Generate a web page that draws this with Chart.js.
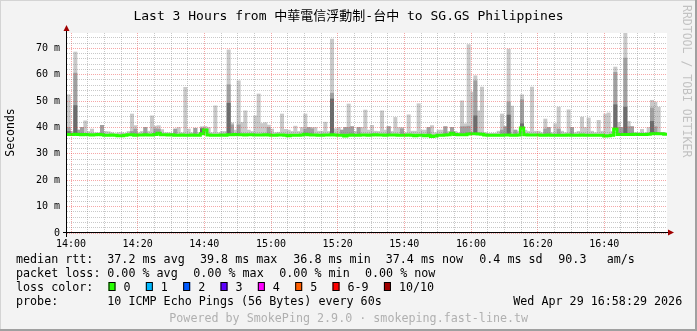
<!DOCTYPE html>
<html>
<head>
<meta charset="utf-8">
<script src="https://cdn.jsdelivr.net/npm/chart.js@4.4.1/dist/chart.umd.min.js"></script>
<style>
  html, body { margin: 0; padding: 0; background: #f3f3f3; }
  canvas { display: block; }
</style>
</head>
<body>
<canvas id="chart" width="697" height="331"></canvas>
<script>
/* global Chart */

const MONO = '"DejaVu Sans Mono", "Noto Sans CJK TC", monospace';

// samples are 1 minute apart, first one starts 1.2 min before 14:00
const FIRST_SAMPLE_MIN = -1.2;
const STEP_MIN = 1;
const Y_MAX = 75.8;

const timeLabels = ['14:00', '14:20', '14:40', '15:00', '15:20', '15:40', '16:00', '16:20', '16:40'];
const yLabels = ['0', '10 m', '20 m', '30 m', '40 m', '50 m', '60 m', '70 m'];

// median rtt per minute (ms)
const medianRtt = [
  37.3, 37.3, 37.4, 37.3, 37.2, 37.3, 37.2, 37.1, 37.2, 37.3, 37.2, 37.0, 37.0, 37.1, 37.0, 36.9, 36.9, 37.0, 37.2, 37.2,
  37.0, 37.1, 37.1, 37.2, 37.1, 37.1, 37.3, 37.8, 37.2, 37.2, 37.1, 37.2, 37.0, 37.0, 37.1, 37.0, 37.0, 37.1, 37.0, 37.0,
  37.6, 39.0, 37.1, 37.0, 37.0, 37.0, 37.1, 37.0, 37.2, 37.2, 37.3, 37.2, 37.2, 37.1, 37.2, 37.2, 37.1, 37.1, 37.1, 37.2,
  37.1, 37.0, 37.0, 37.1, 37.1, 37.0, 36.9, 37.0, 37.0, 37.0, 37.1, 37.4, 37.2, 37.1, 37.1, 37.0, 37.0, 37.1, 37.1, 37.2,
  37.1, 37.0, 37.0, 36.8, 37.0, 37.1, 37.0, 37.0, 37.1, 37.1, 37.0, 37.1, 37.2, 37.1, 37.1, 37.0, 37.1, 37.1, 37.1, 37.0,
  37.0, 37.0, 37.1, 37.0, 36.9, 37.0, 37.0, 36.9, 37.0, 36.6, 36.8, 37.0, 37.0, 37.1, 37.2, 37.8, 37.3, 37.2, 37.2, 37.2,
  37.5, 37.6, 37.6, 37.5, 37.4, 37.1, 37.0, 37.0, 37.0, 37.0, 37.0, 37.1, 37.1, 37.0, 37.0, 37.1, 39.8, 37.2, 37.1, 37.1,
  37.1, 37.1, 37.0, 37.0, 37.1, 37.0, 37.0, 37.0, 37.0, 37.0, 37.1, 37.0, 37.0, 37.0, 37.1, 37.0, 37.0, 37.0, 37.0, 37.0,
  37.0, 36.8, 36.9, 37.0, 39.4, 37.3, 37.3, 37.3, 37.3, 37.3, 37.4, 37.3, 37.3, 37.3, 37.4, 37.6, 37.7, 37.6, 37.6, 37.4,
];

// slowest ping per minute (top of the light smoke)
const smokeMax = [
  52.4, 38.5, 68.6, 39.0, 40.0, 42.5, 38.5, 39.4, 38.0, 38.0, 40.8, 38.5, 38.4, 38.0, 37.6, 38.0, 38.0, 37.8, 38.5, 45.1,
  40.7, 38.0, 38.5, 40.0, 38.6, 44.4, 40.5, 40.7, 39.2, 38.0, 38.0, 37.8, 39.4, 40.0, 38.0, 55.2, 39.4, 38.0, 39.7, 38.0,
  40.3, 40.4, 40.0, 38.0, 48.2, 38.0, 38.5, 38.5, 69.4, 41.7, 39.0, 57.7, 41.9, 46.3, 39.0, 38.5, 44.4, 52.7, 41.5, 41.8,
  40.9, 39.4, 38.0, 38.2, 45.1, 39.3, 39.0, 38.5, 40.5, 38.5, 40.0, 45.1, 40.0, 40.0, 40.0, 38.6, 38.6, 42.0, 38.5, 73.5,
  39.5, 40.0, 39.0, 40.0, 48.9, 40.3, 38.5, 40.0, 40.0, 46.6, 39.0, 40.8, 38.6, 38.5, 46.3, 39.0, 40.4, 38.5, 43.8, 40.0,
  40.0, 38.0, 44.8, 38.6, 38.6, 49.0, 39.0, 39.0, 40.0, 40.7, 38.0, 39.0, 39.0, 40.3, 38.5, 40.0, 38.5, 38.0, 50.1, 41.4,
  71.4, 53.4, 59.6, 46.3, 55.3, 38.0, 37.8, 37.8, 37.8, 38.6, 45.1, 40.3, 69.7, 48.1, 39.0, 38.5, 52.4, 39.0, 38.5, 55.3,
  38.6, 38.6, 38.0, 43.2, 40.0, 38.0, 41.4, 47.7, 38.6, 38.0, 46.7, 40.0, 38.0, 38.5, 43.9, 40.0, 43.6, 38.6, 38.0, 42.7,
  38.6, 45.1, 45.5, 38.5, 62.9, 41.9, 40.0, 75.8, 42.3, 40.3, 38.0, 38.0, 39.3, 38.0, 40.0, 50.3, 49.6, 47.7, 38.0, 37.6,
];

// top of the mid grey smoke band
const smokeUpper = [
  40.0, null, 60.6, 39.0, 40.0, null, null, null, null, null, 40.8, null, null, null, null, null, null, null, null, 38.5,
  39.4, null, null, 40.0, null, null, 39.5, 39.4, null, null, null, null, 39.4, null, null, null, null, null, 39.7, null,
  39.8, 39.5, null, null, null, null, null, null, 56.2, 41.0, null, 41.0, null, null, null, null, null, null, null, null,
  40.0, null, null, null, null, null, null, null, null, null, null, 39.4, 40.0, 39.5, null, null, null, null, null, 53.0,
  null, null, 39.0, 40.0, 40.0, 40.3, null, 40.0, null, null, null, null, null, null, null, null, 40.3, null, null, null,
  39.5, null, null, null, null, null, null, null, 40.0, null, null, null, null, 40.3, null, 40.0, null, null, 40.3, 40.3,
  40.5, null, 57.7, null, null, null, null, null, null, null, 39.0, 40.3, 49.7, null, 39.0, null, 50.5, null, null, null,
  null, null, null, 39.4, 40.0, null, null, 39.4, null, null, null, 40.0, null, null, null, null, null, null, null, null,
  null, null, null, null, 60.9, 40.0, 40.0, 66.3, 40.3, 40.3, null, null, null, null, null, 47.4, 40.3, null, null, null,
];

// top of the dark grey smoke band
const smokeInner = [
  38.5, null, 48.3, null, null, null, null, null, null, null, null, null, null, null, null, null, null, null, null, null,
  null, null, null, null, null, null, null, null, null, null, null, null, null, null, null, null, null, null, null, null,
  39.5, null, null, null, null, null, null, null, 49.2, null, null, null, null, null, null, null, null, null, null, null,
  null, null, null, null, null, null, null, null, null, null, null, null, null, null, null, null, null, null, null, 50.8,
  null, null, null, null, null, null, null, null, null, null, null, null, null, null, null, null, null, null, null, null,
  null, null, null, null, null, null, null, null, null, null, null, null, null, null, null, null, null, null, null, null,
  null, null, 44.4, null, null, null, null, null, null, null, null, null, 44.7, null, null, null, 41.4, null, null, null,
  null, null, null, null, null, null, null, null, null, null, null, null, null, null, null, null, null, null, null, null,
  null, null, null, null, 48.6, null, null, 47.7, null, null, null, null, null, null, null, 42.3, null, null, null, null,
];

const lossLabels = ['0', '1', '2', '3', '4', '5', '6-9', '10/10'];
const lossColors = ['#26ff00', '#00b8ff', '#0059ff', '#5e00ff', '#ff00ff', '#ff5e00', '#ff0000', '#a00000'];

const GRID_MAJOR = 'rgba(235, 60, 60, 0.45)';
const GRID_MINOR = 'rgba(120, 120, 120, 0.4)';

function sampleX(i) {
  return FIRST_SAMPLE_MIN + (i + 0.5) * STEP_MIN;
}

function smokeBand(tops) {
  const pts = [];
  tops.forEach((v, i) => {
    if (v != null) pts.push({ x: sampleX(i), y: [medianRtt[i], v] });
  });
  return pts;
}

const medianPts = medianRtt.map((v, i) => ({ x: FIRST_SAMPLE_MIN + i * STEP_MIN, y: v }));
medianPts.push({ x: FIRST_SAMPLE_MIN + medianRtt.length * STEP_MIN, y: medianRtt[medianRtt.length - 1] });

const xTickValues = [];
for (let m = 0; m < timeLabels.length * 20; m += 5) xTickValues.push(m);
const yTickValues = [];
for (let v = 0; v < Y_MAX; v += 2) yTickValues.push(v);

const barStyle = { borderWidth: 0, barPercentage: 1, categoryPercentage: 1, grouped: false };

// background, plot area, axes and all the rrdtool text
const rrdFrame = {
  id: 'rrdFrame',
  beforeDraw(chart) {
    const { ctx, chartArea: a } = chart;
    ctx.save();
    ctx.fillStyle = '#f3f3f3';
    ctx.fillRect(0, 0, chart.width, chart.height);
    ctx.fillStyle = '#ffffff';
    ctx.fillRect(a.left, a.top, a.right - a.left, a.bottom - a.top);
    ctx.restore();
  },
  afterDraw(chart) {
    const { ctx, chartArea: a } = chart;
    ctx.save();

    // axes
    ctx.strokeStyle = '#000';
    ctx.lineWidth = 1;
    ctx.beginPath();
    ctx.moveTo(a.left - 4, a.bottom - 0.5);
    ctx.lineTo(a.right + 3, a.bottom - 0.5);
    ctx.moveTo(a.left - 0.5, a.bottom + 4);
    ctx.lineTo(a.left - 0.5, a.top - 4);
    ctx.stroke();
    ctx.fillStyle = '#a00000';
    ctx.beginPath();
    ctx.moveTo(a.right + 1, a.bottom - 3.5);
    ctx.lineTo(a.right + 7, a.bottom - 0.5);
    ctx.lineTo(a.right + 1, a.bottom + 2.5);
    ctx.fill();
    ctx.beginPath();
    ctx.moveTo(a.left - 3.5, a.top - 2);
    ctx.lineTo(a.left - 0.5, a.top - 8);
    ctx.lineTo(a.left + 2.5, a.top - 2);
    ctx.fill();

    // title
    ctx.fillStyle = '#000';
    ctx.font = '13px ' + MONO;
    ctx.textAlign = 'center';
    ctx.textBaseline = 'alphabetic';
    ctx.fillText('Last 3 Hours from 中華電信浮動制-台中 to SG.GS Philippines', 348.5, 19.5);

    // unit label
    ctx.font = '11.5px ' + MONO;
    ctx.save();
    ctx.translate(11, 132.5);
    ctx.rotate(-Math.PI / 2);
    ctx.textBaseline = 'middle';
    ctx.fillText('Seconds', 0, 0);
    ctx.restore();

    // watermark
    ctx.save();
    ctx.fillStyle = '#c2c2c2';
    ctx.translate(686, 5);
    ctx.rotate(Math.PI / 2);
    ctx.textAlign = 'left';
    ctx.textBaseline = 'middle';
    ctx.fillText('RRDTOOL / TOBI OETIKER', 0, 0);
    ctx.restore();

    // legend
    ctx.font = '11.7px ' + MONO;
    ctx.textAlign = 'left';
    ctx.fillStyle = '#000';
    const rows = [
      [263.3, [[16, 'median rtt:'], [107.3, '37.2 ms avg'], [200, '39.8 ms max'], [293.3, '36.8 ms min'],
        [385.7, '37.4 ms now'], [479.3, '0.4 ms sd'], [558.3, '90.3'], [606.7, 'am/s']]],
      [277.3, [[16, 'packet loss:'], [107.3, '0.00 % avg'], [193.3, '0.00 % max'], [279.3, '0.00 % min'],
        [365, '0.00 % now']]],
      [291, [[16, 'loss color:']]],
      [305, [[16, 'probe:'], [107.3, '10 ICMP Echo Pings (56 Bytes) every 60s'], [513.3, 'Wed Apr 29 16:58:29 2026']]],
    ];
    rows.forEach(([y, items]) => items.forEach(([x, t]) => ctx.fillText(t, x, y)));

    let bx = 108.5;
    lossLabels.forEach((lab, k) => {
      ctx.fillStyle = lossColors[k];
      ctx.fillRect(bx, 282, 7, 9);
      ctx.strokeStyle = '#000';
      ctx.strokeRect(bx + 0.5, 282.5, 6, 8);
      ctx.fillStyle = '#000';
      ctx.fillText(lab, bx + 15, 291);
      bx += 15 + ctx.measureText(lab).width + 15.3;
    });

    ctx.fillStyle = '#b0b0b0';
    ctx.textAlign = 'center';
    ctx.fillText('Powered by SmokePing 2.9.0 · smokeping.fast-line.tw', 348.7, 321.7);

    // image frame
    ctx.fillStyle = '#d4d4d4';
    ctx.fillRect(0, 0, chart.width, 1);
    ctx.fillRect(0, 0, 1, chart.height);
    ctx.fillStyle = '#a0a0a0';
    ctx.fillRect(chart.width - 2, 0, 2, chart.height);
    ctx.fillRect(0, chart.height - 2, chart.width, 2);
    ctx.restore();
  },
};

new Chart(document.getElementById('chart'), {
  type: 'bar',
  data: {
    datasets: [
      { type: 'line', data: medianPts, borderColor: '#26ff00', borderWidth: 3, pointRadius: 0, stepped: true, order: 0 },
      { data: smokeBand(smokeInner), backgroundColor: '#6c6c6c', order: 1, ...barStyle },
      { data: smokeBand(smokeUpper), backgroundColor: '#a0a0a0', order: 2, ...barStyle },
      { data: smokeBand(smokeMax), backgroundColor: '#c9c9c9', order: 3, ...barStyle },
    ],
  },
  options: {
    responsive: false,
    animation: false,
    devicePixelRatio: 1,
    layout: { padding: { left: 0, top: 33, right: 30, bottom: 0 } },
    plugins: { legend: { display: false }, tooltip: { enabled: false } },
    scales: {
      x: {
        type: 'linear',
        offset: false,
        min: FIRST_SAMPLE_MIN,
        max: FIRST_SAMPLE_MIN + medianRtt.length * STEP_MIN,
        afterBuildTicks: (s) => { s.ticks = xTickValues.map((v) => ({ value: v })); },
        afterFit: (s) => { s.height = 98; },
        grid: {
          z: 1,
          offset: false,
          drawTicks: false,
          color: (c) => (c.tick && c.tick.value % 20 === 0 ? GRID_MAJOR : GRID_MINOR),
        },
        border: { display: false, dash: [1, 1] },
        ticks: {
          autoSkip: false,
          maxRotation: 0,
          padding: 5.5,
          color: '#000',
          font: { family: MONO, size: 10 },
          callback: (v) => (v % 20 === 0 ? timeLabels[v / 20] : ''),
        },
      },
      y: {
        min: 0,
        max: Y_MAX,
        afterBuildTicks: (s) => { s.ticks = yTickValues.map((v) => ({ value: v })); },
        afterFit: (s) => { s.width = 67; },
        grid: {
          z: 1,
          drawTicks: false,
          color: (c) => (c.tick && c.tick.value % 10 === 0 ? GRID_MAJOR : GRID_MINOR),
        },
        border: { display: false, dash: [1, 1] },
        ticks: {
          autoSkip: false,
          padding: 7,
          color: '#000',
          font: { family: MONO, size: 10 },
          callback: (v) => (v % 10 === 0 ? yLabels[v / 10] : ''),
        },
      },
    },
  },
  plugins: [rrdFrame],
});
</script>
</body>
</html>
